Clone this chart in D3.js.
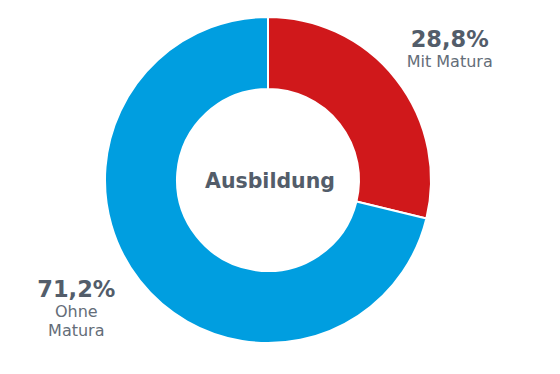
<!DOCTYPE html>
<html>
<head>
<meta charset="utf-8">
<script src="https://cdn.jsdelivr.net/npm/d3@7"></script>
<style>
  body { margin: 0; background: #fff; }
  text { font-family: "DejaVu Sans", Verdana, sans-serif; fill: #535d6a; }
</style>
</head>
<body>
<div id="canvas"></div>
<script>
var Name = ['Mit Matura', 'Ohne Matura']
var Val = [28.8, 71.2]
var Colors = ['#d0181b', '#009ee0']

var width = 560
var height = 374
var cx = 268
var cy = 180
var outerR = 163
var innerR = 91

// label nudges (px), per slice
var labelNudge = [[4, 9], [-14, -11]]

let Svg = d3.select('#canvas')
  .append('svg')
  .attr('width', width)
  .attr('height', height)

let g = Svg.append('g').attr('transform', 'translate(' + cx + ',' + cy + ')')

let pie = d3.pie().sort(null).value(d => d)
let arcs = pie(Val)

let arc = d3.arc().innerRadius(innerR).outerRadius(outerR)
let labelArc = d3.arc().innerRadius(226).outerRadius(226)

g.selectAll('path')
  .data(arcs)
  .enter()
  .append('path')
  .attr('d', arc)
  .style('fill', (d, i) => Colors[i])
  .style('stroke', '#fff')
  .style('stroke-width', 2)

g.append('text')
  .attr('text-anchor', 'middle')
  .attr('x', 2)
  .attr('y', 8)
  .style('font-size', '20.5px')
  .style('font-weight', 'bold')
  .text('Ausbildung')

let fmt = v => d3.format('.1f')(v).replace('.', ',') + '%'

let labels = g.selectAll('.lbl')
  .data(arcs)
  .enter()
  .append('text')
  .attr('class', 'lbl')
  .attr('text-anchor', 'middle')
  .attr('transform', (d, i) => {
    let c = labelArc.centroid(d)
    return 'translate(' + (c[0] + labelNudge[i][0]) + ',' + (c[1] + labelNudge[i][1]) + ')'
  })

labels.each(function (d, i) {
  let t = d3.select(this)
  let words = i === 0 ? [Name[i]] : Name[i].split(' ')
  let lineH = 19
  let top = -(words.length * lineH + 20) / 2 + 17
  t.append('tspan')
    .attr('x', 0)
    .attr('y', top)
    .style('font-size', '22.5px')
    .style('font-weight', 'bold')
    .text(fmt(d.data))
  words.forEach((w, k) => {
    t.append('tspan')
      .attr('x', 0)
      .attr('y', top + 20 + k * lineH)
      .style('font-size', '16px')
      .style('fill', '#646d78')
      .text(w)
  })
})
</script>
</body>
</html>
